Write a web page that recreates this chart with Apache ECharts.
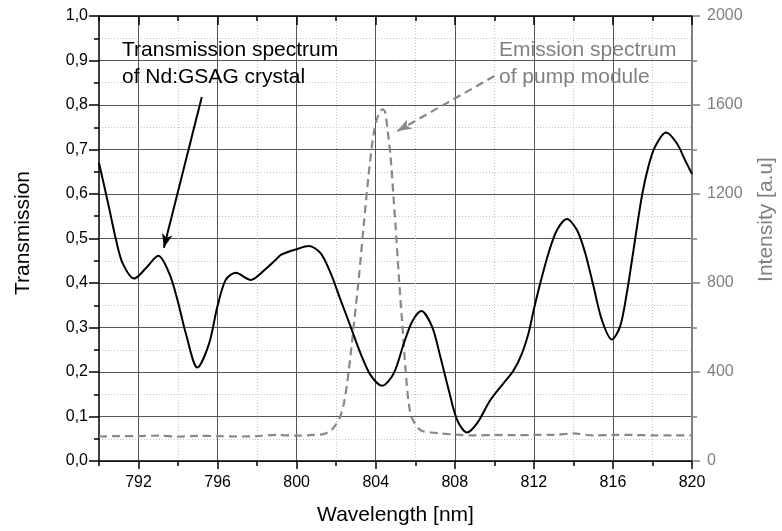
<!DOCTYPE html>
<html>
<head>
<meta charset="utf-8">
<script src="https://cdn.jsdelivr.net/npm/echarts@6/dist/echarts.min.js"></script>
<style>
html, body { margin: 0; padding: 0; background: #fff; }
#chart { width: 782px; height: 531px; }
</style>
</head>
<body>
<div id="chart"></div>
<script>
// transmission spectrum of the crystal (left axis)
const transWl = [790.0, 790.5, 790.86, 791.2, 791.78, 792.37, 793.0, 793.55, 793.97, 794.39,
  794.98, 795.57, 795.99, 796.41, 796.92, 797.68, 798.27, 798.94, 799.2, 800.0,
  800.62, 801.21, 801.72, 802.22, 802.73, 803.23, 803.74, 804.33, 804.91, 805.42,
  805.84, 806.3, 806.85, 807.27, 807.69, 808.12, 808.62, 809.13, 809.8, 810.47,
  810.98, 811.4, 811.73, 811.99, 812.32, 812.74, 813.17, 813.67, 814.18, 814.6,
  815.02, 815.44, 815.94, 816.36, 816.7, 817.04, 817.46, 817.79, 818.13, 818.69,
  819.23, 819.65, 820.0];
const transVal = [0.670, 0.571, 0.497, 0.444, 0.410, 0.433, 0.461, 0.422, 0.362, 0.287,
  0.210, 0.264, 0.347, 0.407, 0.423, 0.407, 0.425, 0.452, 0.463, 0.476,
  0.483, 0.467, 0.422, 0.362, 0.302, 0.242, 0.193, 0.169, 0.197, 0.264,
  0.313, 0.337, 0.302, 0.234, 0.160, 0.092, 0.064, 0.085, 0.137, 0.175,
  0.204, 0.242, 0.287, 0.339, 0.399, 0.467, 0.519, 0.544, 0.519, 0.467,
  0.392, 0.317, 0.273, 0.302, 0.377, 0.474, 0.594, 0.661, 0.706, 0.738,
  0.714, 0.676, 0.645];

// emission spectrum of the pump module (right axis)
const emisWl = [790, 791, 792, 793, 794, 795, 796, 797, 798, 799,
  800, 800.9, 801.4, 801.72, 801.97, 802.14, 802.39, 802.64, 802.9, 803.15,
  803.4, 803.65, 803.9, 804.16, 804.35, 804.47, 804.58, 804.75, 804.91, 805.05,
  805.17, 805.34, 805.51, 805.67, 805.84, 806.26, 806.8, 807.27, 808.28, 809,
  810, 811, 812, 813, 814, 815, 816, 817, 818, 819, 820];
const emisVal = [110, 112, 112, 114, 110, 113, 112, 110, 112, 117,
  114, 117, 122, 136, 162, 184, 259, 409, 619, 828,
  1068, 1293, 1473, 1563, 1580, 1570, 1503, 1368, 1173, 993,
  828, 619, 409, 259, 192, 139, 128, 124, 117, 115,
  117, 116, 117, 117, 124, 115, 117, 117, 115, 115, 115];

const xLabelTicks = [792, 796, 800, 804, 808, 812, 816, 820];

// annotation arrows, in data units: [start, end]
const transArrow = [[795.2, 0.818], [793.28, 0.479]];
const emisArrow = [[810.0, 1730], [805.1, 1483]];

const FONT = '"Liberation Sans", Arial, sans-serif';
const GRAY = '#808080';

const chart = echarts.init(document.getElementById('chart'));

function xCommon(pos) {
  return {
    type: 'value', position: pos, min: 790, max: 820, interval: 2,
    axisLabel: { show: false },
    splitLine: { show: false },
    axisLine: { show: false, onZero: false }
  };
}

let option = {
  animation: false,
  backgroundColor: '#fff',
  grid: { left: 99, right: 90, top: 16, bottom: 70, containLabel: false, outerBoundsMode: 'none' },
  xAxis: [
    Object.assign(xCommon('bottom'), {
      axisLine: { show: true, onZero: false, lineStyle: { color: '#000', width: 1.5 } },
      axisTick: { show: true, length: 5, lineStyle: { color: '#000', width: 1.5 } },
      axisLabel: {
        show: true, margin: 14, color: '#000', fontSize: 16, fontFamily: FONT,
        formatter: v => (v % 4 === 0 ? String(v) : '')
      },
      splitLine: { show: true, lineStyle: { color: '#c4c4c4', type: [1, 2], width: 1 } },
      name: 'Wavelength [nm]', nameLocation: 'middle', nameGap: 44,
      nameTextStyle: { color: '#000', fontSize: 21, fontFamily: FONT }
    }),
    Object.assign(xCommon('bottom'), {
      axisTick: { show: true, length: 8, customValues: xLabelTicks, lineStyle: { color: '#000', width: 1.5 } }
    }),
    Object.assign(xCommon('top'), {
      axisLine: { show: true, onZero: false, lineStyle: { color: '#000', width: 1.5 } },
      axisTick: { show: true, inside: true, length: 5, lineStyle: { color: '#000', width: 1.5 } },
      splitLine: { show: true, lineStyle: { color: ['rgba(0,0,0,0)', '#555'], width: 1 } }
    }),
    Object.assign(xCommon('top'), {
      axisTick: { show: true, inside: true, length: 9, customValues: xLabelTicks, lineStyle: { color: '#000', width: 1.5 } }
    })
  ],
  yAxis: [
    {
      type: 'value', position: 'left', min: 0, max: 1, interval: 0.1,
      axisLine: { show: true, onZero: false, lineStyle: { color: '#000', width: 1.5 } },
      axisTick: { show: true, length: 10, lineStyle: { color: '#000', width: 1.5 } },
      minorTick: { show: true, splitNumber: 2, length: 5, lineStyle: { color: '#000', width: 1.5 } },
      splitLine: { show: true, lineStyle: { color: '#555', width: 1 } },
      minorSplitLine: { show: true, lineStyle: { color: '#c4c4c4', type: [1, 2], width: 1 } },
      axisLabel: {
        margin: 11, color: '#000', fontSize: 16, fontFamily: FONT,
        formatter: v => v.toFixed(1).replace('.', ',')
      },
      name: 'Transmission', nameLocation: 'middle', nameRotate: 90, nameGap: 65,
      nameTextStyle: { color: '#000', fontSize: 21, fontFamily: FONT, padding: [0, 0, 0, 11] }
    },
    {
      type: 'value', position: 'right', min: 0, max: 2000, interval: 400,
      axisLine: { show: true, onZero: false, lineStyle: { color: GRAY, width: 2 } },
      axisTick: { show: true, length: 8, lineStyle: { color: GRAY, width: 1.5 } },
      minorTick: { show: true, splitNumber: 2, length: 5, lineStyle: { color: GRAY, width: 1.5 } },
      splitLine: { show: false },
      axisLabel: { margin: 15, color: GRAY, fontSize: 16, fontFamily: FONT, formatter: v => String(v) },
      name: 'Intensity [a.u]', nameLocation: 'middle', nameRotate: 90, nameGap: 64,
      nameTextStyle: { color: GRAY, fontSize: 21, fontFamily: FONT, padding: [0, 0, 0, 38] }
    }
  ],
  series: [
    {
      name: 'Transmission', type: 'line', xAxisIndex: 0, yAxisIndex: 0,
      data: transWl.map((w, i) => [w, transVal[i]]),
      smooth: 0.3, showSymbol: false, symbol: 'none',
      lineStyle: { color: '#000', width: 2 },
      z: 5,
      markLine: {
        silent: true, animation: false,
        symbol: ['none', 'arrow'], symbolSize: [8, 14],
        label: { show: false },
        lineStyle: { color: '#000', width: 2, type: 'solid' },
        data: [[{ coord: transArrow[0] }, { coord: transArrow[1] }]]
      }
    },
    {
      name: 'Emission', type: 'line', xAxisIndex: 0, yAxisIndex: 1,
      data: emisWl.map((w, i) => [w, emisVal[i]]),
      smooth: 0.3, showSymbol: false, symbol: 'none',
      lineStyle: { color: '#888', width: 2.2, type: [8, 5] },
      z: 4,
      markLine: {
        silent: true, animation: false,
        symbol: ['none', 'arrow'], symbolSize: [8, 14],
        label: { show: false },
        lineStyle: { color: '#888', width: 2.2, type: [8, 5] },
        data: [[{ coord: emisArrow[0] }, { coord: emisArrow[1] }]]
      }
    }
  ],
  graphic: [
    {
      type: 'text', left: 122, top: 37, z: 10,
      style: { text: 'Transmission spectrum\nof Nd:GSAG crystal', fill: '#000', font: '21px ' + FONT, lineHeight: 27 }
    },
    {
      type: 'text', left: 499, top: 37, z: 10,
      style: { text: 'Emission spectrum\nof pump module', fill: GRAY, font: '21px ' + FONT, lineHeight: 27 }
    }
  ]
};

chart.setOption(option);
</script>
</body>
</html>
